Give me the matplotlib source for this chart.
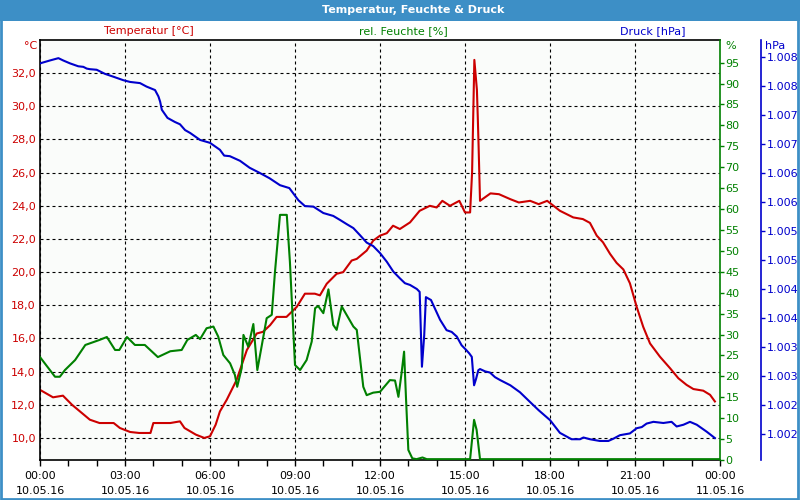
import matplotlib
matplotlib.use('Agg')
import matplotlib.pyplot as plt
from matplotlib.patches import Rectangle
from matplotlib.ticker import MultipleLocator, FixedLocator, FuncFormatter
import math

plt.rcParams.update({
    "font.family": "DejaVu Sans",
    "font.size": 8,
})

# --- data (hours since 10.05.16 00:00) ---
temp_h = [0, 0.46, 0.81, 1.13, 1.76, 2.1, 2.6, 2.82, 3.18, 3.5, 3.9, 4.0, 4.6, 4.94, 5.1, 5.5,
          5.8, 6.0, 6.2, 6.35, 6.59, 6.94, 7.3, 7.65, 7.87, 8.12, 8.35, 8.7, 9.06, 9.35, 9.7,
          9.88, 10.12, 10.47, 10.7, 11.0, 11.18, 11.53, 11.76, 12.0, 12.24, 12.46, 12.7, 13.06,
          13.4, 13.76, 14.0, 14.2, 14.47, 14.8, 15.0, 15.18, 15.25, 15.33, 15.42, 15.45, 15.48,
          15.53, 15.9, 16.2, 16.6, 16.9, 17.3, 17.6, 17.9, 18.35, 18.82, 19.16, 19.41, 19.65,
          19.87, 20.12, 20.35, 20.59, 20.82, 21.06, 21.29, 21.53, 21.88, 22.24, 22.53, 22.82,
          23.06, 23.41, 23.65, 23.82]
temp_c = [12.9, 12.45, 12.55, 12.0, 11.1, 10.9, 10.9, 10.6, 10.36, 10.3, 10.3, 10.9, 10.9, 11.0,
          10.6, 10.2, 10.0, 10.1, 10.8, 11.6, 12.3, 13.5, 15.3, 16.3, 16.4, 16.8, 17.3, 17.3,
          17.9, 18.7, 18.7, 18.6, 19.3, 19.9, 20.0, 20.7, 20.8, 21.3, 21.9, 22.2, 22.35, 22.8,
          22.6, 23.0, 23.7, 24.0, 23.9, 24.3, 24.0, 24.3, 23.6, 23.6, 26.0, 32.8, 31.0, 29.4,
          27.6, 24.3, 24.75, 24.7, 24.4, 24.2, 24.3, 24.1, 24.3, 23.7, 23.3, 23.2, 22.97, 22.2,
          21.8, 21.1, 20.56, 20.16, 19.33, 17.9, 16.7, 15.7, 14.9, 14.2, 13.6, 13.2, 12.95,
          12.85, 12.6, 12.2]

hum_h = [0, 0.53, 0.7, 0.88, 1.24, 1.6, 2.1, 2.36, 2.65, 2.8, 3.07, 3.35, 3.7, 4.16, 4.6, 5.0,
         5.2, 5.5, 5.65, 5.88, 6.12, 6.29, 6.47, 6.71, 6.88, 6.96, 7.12, 7.18, 7.35, 7.53, 7.67,
         7.82, 8.0, 8.18, 8.29, 8.47, 8.71, 8.82, 9.0, 9.18, 9.41, 9.59, 9.71, 9.82, 10.0, 10.18,
         10.35, 10.47, 10.65, 11.06, 11.18, 11.41, 11.53, 11.76, 12.0, 12.35, 12.53, 12.65,
         12.76, 12.85, 12.92, 13.0, 13.14, 13.29, 13.5, 13.65, 15.18, 15.32, 15.41, 15.53, 24.0]
hum_pct = [24.6, 19.9, 19.9, 21.5, 23.9, 27.5, 28.7, 29.4, 26.3, 26.3, 29.4, 27.5, 27.5, 24.6,
           26.0, 26.3, 28.7, 29.9, 28.9, 31.5, 31.9, 29.5, 25.1, 23.1, 20.3, 17.5, 22.0, 29.9,
           27.1, 32.5, 21.5, 27.1, 33.9, 34.7, 44.7, 58.6, 58.6, 47.4, 22.7, 21.5, 23.9, 28.3,
           36.3, 36.8, 35.1, 40.8, 32.3, 31.1, 36.7, 31.9, 31.1, 17.5, 15.5, 16.1, 16.3, 19.1,
           19.0, 15.1, 20.7, 25.9, 14.4, 2.4, 0.4, 0.2, 0.6, 0.2, 0.2, 9.6, 7.2, 0.2, 0.2]

press_h = [0, 0.35, 0.65, 0.82, 1.06, 1.35, 1.53, 1.65, 1.76, 2.0, 2.29, 2.59, 2.94, 3.18, 3.53,
           3.76, 4.06, 4.18, 4.24, 4.3, 4.5, 4.76, 4.94, 5.12, 5.3, 5.65, 6.0, 6.35, 6.5, 6.7,
           7.06, 7.4, 7.76, 8.1, 8.47, 8.8, 9.12, 9.35, 9.65, 10.0, 10.35, 10.59, 10.82, 11.06,
           11.29, 11.53, 11.76, 12.0, 12.24, 12.47, 12.71, 12.88, 13.06, 13.3, 13.4, 13.48,
           13.56, 13.62, 13.8, 14.12, 14.35, 14.53, 14.71, 14.88, 15.04, 15.15, 15.24, 15.32,
           15.39, 15.47, 15.53, 15.71, 15.88, 16.06, 16.24, 16.6, 16.94, 17.3, 17.6, 18.0, 18.35,
           18.76, 19.06, 19.18, 19.41, 19.76, 20.06, 20.24, 20.47, 20.82, 21.06, 21.24, 21.41,
           21.65, 22.0, 22.29, 22.47, 22.71, 22.94, 23.18, 23.53, 23.82]
press_hpa = [1007.89, 1007.94, 1007.98, 1007.94, 1007.89, 1007.84, 1007.83, 1007.80, 1007.79,
             1007.78, 1007.71, 1007.66, 1007.60, 1007.57, 1007.55, 1007.49, 1007.43, 1007.32,
             1007.23, 1007.09, 1006.95, 1006.88, 1006.84, 1006.74, 1006.69, 1006.57, 1006.52,
             1006.40, 1006.30, 1006.29, 1006.21, 1006.09, 1006.00, 1005.91, 1005.79, 1005.74,
             1005.53, 1005.43, 1005.42, 1005.31, 1005.26, 1005.19, 1005.12, 1005.05, 1004.93,
             1004.80, 1004.74, 1004.62, 1004.47, 1004.30, 1004.18, 1004.10, 1004.07, 1004.00,
             1003.95, 1002.66, 1003.20, 1003.86, 1003.81, 1003.47, 1003.29, 1003.26, 1003.18,
             1003.03, 1002.95, 1002.89, 1002.83, 1002.34, 1002.45, 1002.60, 1002.62, 1002.58,
             1002.56, 1002.48, 1002.43, 1002.34, 1002.22, 1002.05, 1001.91, 1001.74, 1001.52,
             1001.41, 1001.41, 1001.44, 1001.41, 1001.38, 1001.38, 1001.42, 1001.48, 1001.51,
             1001.60, 1001.62, 1001.68, 1001.71, 1001.69, 1001.71, 1001.63, 1001.66, 1001.71,
             1001.66, 1001.54, 1001.43]

x_ticks = [0, 3, 6, 9, 12, 15, 18, 21, 24]
x_labels = ['00:00\n10.05.16', '03:00\n10.05.16', '06:00\n10.05.16', '09:00\n10.05.16',
            '12:00\n10.05.16', '15:00\n10.05.16', '18:00\n10.05.16', '21:00\n10.05.16',
            '00:00\n11.05.16']
temp_ticks = [10, 12, 14, 16, 18, 20, 22, 24, 26, 28, 30, 32]
press_ticks = [1001.5, 1002.0, 1002.5, 1003.0, 1003.5, 1004.0, 1004.5, 1005.0, 1005.5,
               1006.0, 1006.5, 1007.0, 1007.5, 1008.0]

RED = '#cc0000'
GREEN = '#008000'
BLUE = '#0000cc'
FRAME = '#3d8fc6'

W, H = 800, 500


def fx(px):
    return px / W


def fy(py):
    return 1 - py / H


fig = plt.figure(figsize=(8, 5), dpi=100)
fig.patch.set_facecolor('white')

# title bar + frame
fig.patches.append(Rectangle((0, fy(20.5)), 1, 20.5 / H, transform=fig.transFigure,
                             facecolor=FRAME, edgecolor='none'))
fig.patches.append(Rectangle((0.001, 0.002), 0.997, 0.996, transform=fig.transFigure,
                             fill=False, edgecolor=FRAME, lw=2))
fig.text(fx(413), fy(10), 'Temperatur, Feuchte & Druck', color='white',
         fontweight='bold', fontsize=8, ha='center', va='center')

ax = fig.add_axes([fx(40), fy(460), fx(680), 420 / H])
ax.set_facecolor('#fafcfa')
ax.plot(temp_h, temp_c, color=RED, lw=1.5)
ax.set_xlim(0, 24)
ax.set_ylim(8.67, 34.0)
ax.xaxis.set_major_locator(FixedLocator(x_ticks))
ax.xaxis.set_minor_locator(MultipleLocator(1))
ax.set_xticklabels(x_labels, linespacing=1.6)
ax.yaxis.set_major_locator(FixedLocator(temp_ticks))
ax.yaxis.set_major_formatter(FuncFormatter(lambda v, p: f'{v:.1f}'.replace('.', ',')))
ax.tick_params(axis='x', which='both', length=4, width=1, direction='out', pad=4, colors='black')
ax.tick_params(axis='y', length=0, pad=3, labelcolor=RED)
ax.grid(True, axis='both', which='major', color='black', lw=0.8, linestyle=(0, (2.7, 2.7)))
for s in ['left', 'bottom', 'top']:
    ax.spines[s].set_color('black')
    ax.spines[s].set_linewidth(1.2)
ax.spines['right'].set_visible(False)

ax_h = ax.twinx()
ax_h.plot(hum_h, hum_pct, color=GREEN, lw=1.5)
ax_h.set_ylim(0, 100.4)
ax_h.yaxis.set_major_locator(MultipleLocator(5))
ax_h.set_yticks([v for v in range(0, 100, 5)])
ax_h.tick_params(axis='y', length=3, width=1, pad=1, colors=GREEN)
ax_h.spines['right'].set_color(GREEN)
ax_h.spines['right'].set_linewidth(1.2)
for s in ['left', 'top', 'bottom']:
    ax_h.spines[s].set_visible(False)

ax_p = ax.twinx()
ax_p.plot(press_h, press_hpa, color=BLUE, lw=1.5)
ax_p.set_ylim(1001.052, 1008.293)
ax_p.spines['right'].set_position(('axes', (761 - 40) / 680))
ax_p.spines['right'].set_color(BLUE)
ax_p.spines['right'].set_linewidth(1.2)
for s in ['left', 'top', 'bottom']:
    ax_p.spines[s].set_visible(False)
ax_p.yaxis.set_major_locator(FixedLocator(press_ticks))
ax_p.yaxis.set_major_formatter(
    FuncFormatter(lambda v, p: f'{int(math.floor(v + 0.5)):,}'.replace(',', '.')))
ax_p.tick_params(axis='y', length=3, width=1, pad=1, colors=BLUE)

# series headers and units
fig.text(fx(149), fy(31), 'Temperatur [°C]', color=RED, ha='center', va='center')
fig.text(fx(403), fy(31), 'rel. Feuchte [%]', color=GREEN, ha='center', va='center')
fig.text(fx(653), fy(31), 'Druck [hPa]', color=BLUE, ha='center', va='center')
fig.text(fx(37), fy(46), '°C', color=RED, ha='right', va='center')
fig.text(fx(725), fy(46), '%', color=GREEN, ha='left', va='center')
fig.text(fx(765), fy(46), 'hPa', color=BLUE, ha='left', va='center')

fig.savefig('out.png', dpi=100)
